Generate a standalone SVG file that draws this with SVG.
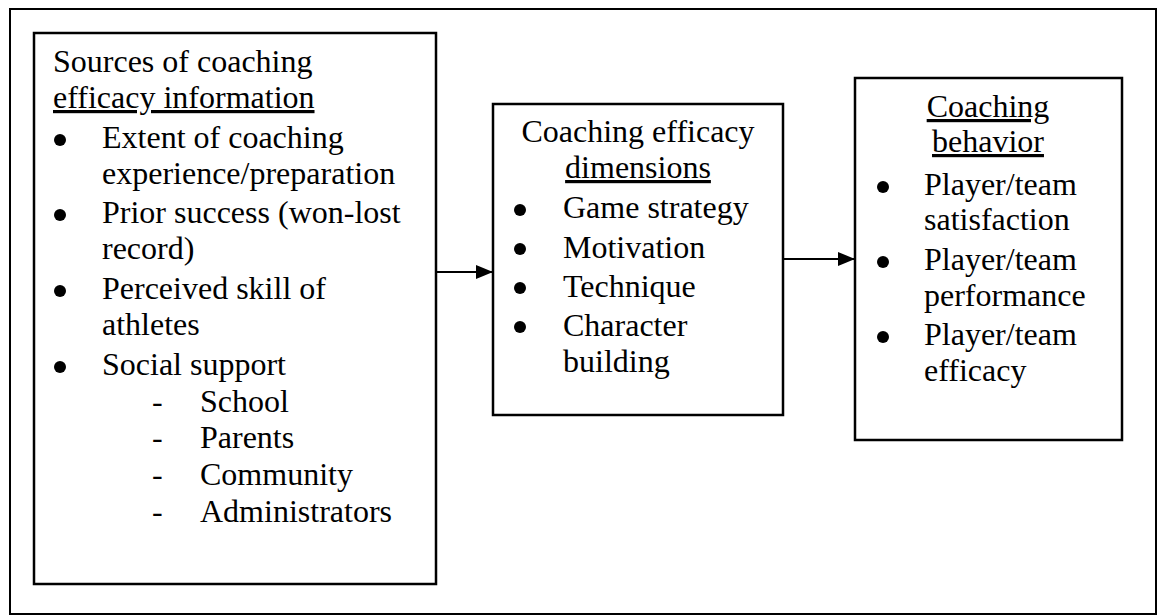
<svg xmlns="http://www.w3.org/2000/svg" width="1161" height="616" viewBox="0 0 1161 616">
<style>
.box{fill:none;stroke:#000;stroke-width:2.5}
.frame{fill:none;stroke:#000;stroke-width:2}
text{font-family:"Liberation Serif","Times New Roman",serif;font-size:32px;fill:#000}
.c{text-anchor:middle}
.u{text-decoration:underline}
.conn{stroke:#000;stroke-width:2;fill:none}
circle{fill:#000}
</style>
<defs>
<marker id="ah" viewBox="0 0 17 14" refX="17" refY="7" markerWidth="17" markerHeight="14" markerUnits="userSpaceOnUse" orient="auto">
<path d="M0,0 L17,7 L0,14 Z" fill="#000"/>
</marker>
</defs>
<rect width="1161" height="616" fill="#fff"/>
<rect class="frame" x="10" y="9" width="1146" height="605"/>
<g id="sources">
<rect class="box" x="34" y="33" width="402" height="551"/>
<text x="53" y="72">Sources of coaching</text>
<text x="53" y="108" class="u">efficacy information</text>
<circle cx="60" cy="140" r="6"/>
<text x="102" y="148">Extent of coaching</text>
<text x="102" y="184">experience/preparation</text>
<circle cx="60" cy="215" r="6"/>
<text x="102" y="223">Prior success (won-lost</text>
<text x="102" y="259">record)</text>
<circle cx="60" cy="291" r="6"/>
<text x="102" y="299">Perceived skill of</text>
<text x="102" y="335">athletes</text>
<circle cx="60" cy="367" r="6"/>
<text x="102" y="375">Social support</text>
<text x="152" y="412">-</text><text x="200" y="412">School</text>
<text x="152" y="448">-</text><text x="200" y="448">Parents</text>
<text x="152" y="485">-</text><text x="200" y="485">Community</text>
<text x="152" y="522">-</text><text x="200" y="522">Administrators</text>
</g>
<g id="dimensions">
<rect class="box" x="493" y="104" width="290" height="311"/>
<text x="638" y="142" class="c">Coaching efficacy</text>
<text x="638" y="178" class="c u">dimensions</text>
<circle cx="520" cy="210" r="6"/>
<text x="563" y="218">Game strategy</text>
<circle cx="520" cy="249" r="6"/>
<text x="563" y="258">Motivation</text>
<circle cx="520" cy="288" r="6"/>
<text x="563" y="297">Technique</text>
<circle cx="520" cy="327" r="6"/>
<text x="563" y="336">Character</text>
<text x="563" y="372">building</text>
</g>
<g id="behavior">
<rect class="box" x="855" y="78" width="267" height="362"/>
<text x="988" y="117" class="c u">Coaching</text>
<text x="988" y="152" class="c u">behavior</text>
<circle cx="883" cy="187" r="6"/>
<text x="924" y="195">Player/team</text>
<text x="924" y="230">satisfaction</text>
<circle cx="883" cy="262" r="6"/>
<text x="924" y="270">Player/team</text>
<text x="924" y="306">performance</text>
<circle cx="883" cy="337" r="6"/>
<text x="924" y="345">Player/team</text>
<text x="924" y="381">efficacy</text>
</g>
<g id="connectors">
<line class="conn" x1="436" y1="272" x2="493" y2="272" marker-end="url(#ah)"/>
<line class="conn" x1="783" y1="259" x2="855" y2="259" marker-end="url(#ah)"/>
</g>
</svg>
